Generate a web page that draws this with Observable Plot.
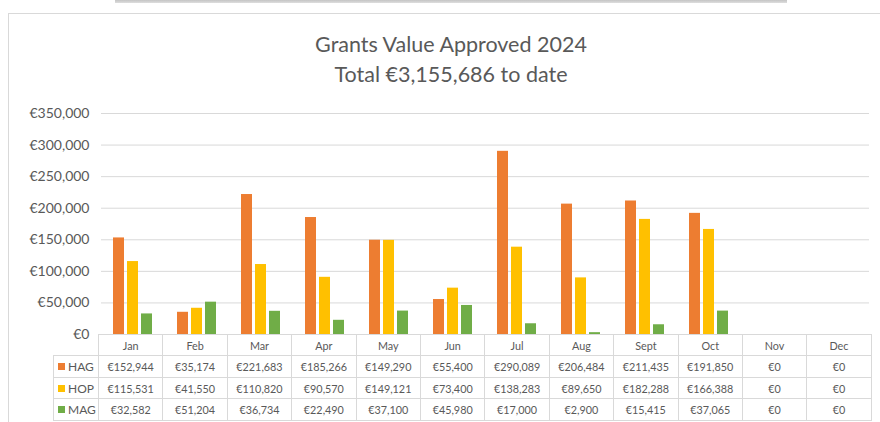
<!DOCTYPE html>
<html>
<head>
<meta charset="utf-8">
<script src="https://cdn.jsdelivr.net/npm/d3@7"></script>
<script src="https://cdn.jsdelivr.net/npm/@observablehq/plot@0.6"></script>
<style>
  html, body { margin: 0; padding: 0; background: #fff; }
  #wrap { position: relative; width: 880px; height: 422px; overflow: hidden; font-family: Lato, "Noto Sans", sans-serif; color: #595959; }
  #topbar { position: absolute; left: 115px; top: 0; width: 672px; height: 3px; background: linear-gradient(#c4c4c4, #dedede); }
  #frame { position: absolute; left: 8px; top: 13px; width: 900px; height: 440px; border: 1px solid #d9d9d9; box-sizing: border-box; }
  .title { position: absolute; left: 0; width: 902px; text-align: center; font-size: 21.5px; color: #595959; white-space: nowrap; }
  #chart { position: absolute; left: 0; top: 100px; }
  #table { position: absolute; left: 53px; top: 334px; border-collapse: collapse; table-layout: fixed; font-size: 10.8px; color: #595959; }
  #table td { border: 1px solid #d9d9d9; text-align: center; padding: 0; white-space: nowrap; overflow: hidden; }
  #table td.leg { text-align: left; padding-left: 4px; font-size: 12px; }
  #table td.corner { border-top: none; border-left: none; }
  .sw { display: inline-block; width: 7px; height: 7px; margin-right: 3px; vertical-align: 1px; }
</style>
</head>
<body>
<div id="wrap">
  <div id="topbar"></div>
  <div id="frame"></div>
  <div class="title" id="t1" style="top:31px">Grants Value Approved 2024</div>
  <div class="title" id="t2" style="top:61px">Total €3,155,686 to date</div>
  <div id="chart"></div>
  <table id="table"></table>
</div>
<script>
const months = ["Jan", "Feb", "Mar", "Apr", "May", "Jun", "Jul", "Aug", "Sept", "Oct", "Nov", "Dec"];
const series = ["HAG", "HOP", "MAG"];
const colors = ["#ED7D31", "#FFC000", "#70AD47"];
const hag = [152944, 35174, 221683, 185266, 149290, 55400, 290089, 206484, 211435, 191850, 0, 0];
const hop = [115531, 41550, 110820, 90570, 149121, 73400, 138283, 89650, 182288, 166388, 0, 0];
const mag = [32582, 51204, 36734, 22490, 37100, 45980, 17000, 2900, 15415, 37065, 0, 0];
const yTicks = [0, 50000, 100000, 150000, 200000, 250000, 300000, 350000];

const valuesBySeries = {HAG: hag, HOP: hop, MAG: mag};
const data = [];
months.forEach((m, i) => series.forEach(s => data.push({month: m, series: s, value: valuesBySeries[s][i]})));
const euro = v => "€" + d3.format(",")(v);

const chart = Plot.plot({
  width: 880,
  height: 248,
  marginLeft: 98,
  marginRight: 8,
  marginTop: 13,
  marginBottom: 14,
  style: {fontFamily: "Lato, 'Noto Sans', sans-serif", fontSize: "14px", color: "#595959", background: "transparent"},
  fx: {domain: months, padding: 0, axis: null},
  x: {domain: series, paddingInner: 0.2, paddingOuter: 0.82, axis: null},
  y: {domain: [0, 350000], axis: null},
  color: {domain: series, range: colors},
  marks: [
    Plot.gridY(yTicks.filter(d => d > 0), {stroke: "#d9d9d9", strokeOpacity: 1, strokeWidth: 1}),
    Plot.axisY(yTicks, {tickSize: 0, tickPadding: 12, tickFormat: euro, fontSize: 14, fill: "#595959", label: null}),
    Plot.barY(data, {fx: "month", x: "series", y: "value", fill: "series"})
  ]
});
document.getElementById("chart").appendChild(chart);

// data table
const table = document.getElementById("table");
const colg = document.createElement("colgroup");
const c0 = document.createElement("col"); c0.style.width = "45px"; colg.appendChild(c0);
months.forEach(() => { const c = document.createElement("col"); c.style.width = "64.4px"; colg.appendChild(c); });
table.appendChild(colg);
table.style.width = (45 + 64.4 * 12) + "px";
const hr = document.createElement("tr"); hr.style.height = "21px";
const corner = document.createElement("td"); corner.className = "corner"; hr.appendChild(corner);
months.forEach(m => { const td = document.createElement("td"); td.textContent = m; hr.appendChild(td); });
table.appendChild(hr);
series.forEach((s, si) => {
  const tr = document.createElement("tr"); tr.style.height = "21.7px";
  const lg = document.createElement("td"); lg.className = "leg";
  const sw = document.createElement("span"); sw.className = "sw"; sw.style.background = colors[si];
  lg.appendChild(sw); lg.appendChild(document.createTextNode(s));
  tr.appendChild(lg);
  valuesBySeries[s].forEach(v => { const td = document.createElement("td"); td.textContent = euro(v); tr.appendChild(td); });
  table.appendChild(tr);
});
</script>
</body>
</html>
